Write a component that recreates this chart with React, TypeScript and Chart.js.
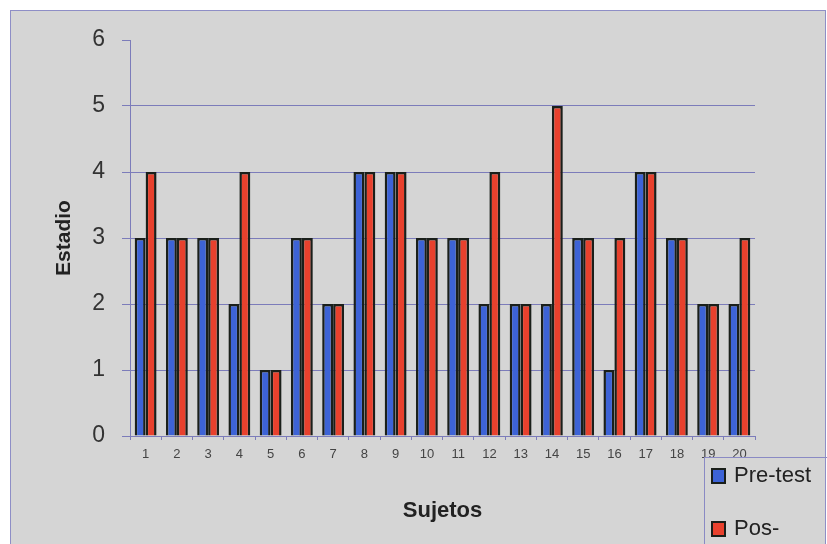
import React, { useEffect, useRef } from "react";
import { Chart, registerables } from "chart.js";

Chart.register(...registerables);

const categories = ["1", "2", "3", "4", "5", "6", "7", "8", "9", "10", "11", "12", "13", "14", "15", "16", "17", "18", "19", "20"];
const preTest = [3, 3, 3, 2, 1, 3, 2, 4, 4, 3, 3, 2, 2, 2, 3, 1, 4, 3, 2, 2];
const posTest = [4, 3, 3, 4, 1, 3, 2, 4, 4, 3, 3, 4, 2, 5, 3, 3, 4, 3, 2, 3];
const seriesLabels = ["Pre-test", "Pos-test"];
const legendLines = [["Pre-test"], ["Pos-", "test"]];
const xTitle = "Sujetos";
const yTitle = "Estadio";

const FONT = "'Liberation Sans', Arial, Helvetica, sans-serif";
const GRID = "#7c7cba";

const boxLegend = {
  id: "boxLegend",
  afterDraw(chart: any) {
    const ctx = chart.ctx;
    ctx.save();
    ctx.strokeStyle = "#8a8ac4";
    ctx.lineWidth = 1;
    ctx.strokeRect(704.5, 457.5, 150, 120);
    const rows = [476, 529];
    chart.data.datasets.forEach((ds: any, i: number) => {
      const cy = rows[i];
      ctx.fillStyle = ds.backgroundColor;
      ctx.fillRect(712, cy - 7, 13, 14);
      ctx.strokeStyle = "#1a1f1a";
      ctx.lineWidth = 2;
      ctx.strokeRect(712, cy - 7, 13, 14);
      ctx.fillStyle = "#222";
      ctx.font = `22px ${FONT}`;
      ctx.textBaseline = "middle";
      ctx.textAlign = "left";
      legendLines[i].forEach((line, k) => {
        ctx.fillText(line, 734, cy + k * 26);
      });
    });
    ctx.restore();
  },
};

export default function App() {
  const ref = useRef<HTMLCanvasElement | null>(null);

  useEffect(() => {
    if (!ref.current) return;
    Chart.defaults.font.family = FONT;
    const chart = new Chart(ref.current, {
      type: "bar",
      data: {
        labels: categories,
        datasets: [
          {
            label: seriesLabels[0],
            data: preTest,
            backgroundColor: "#3d63d6",
            borderColor: "#1a1f1a",
            borderWidth: 2.5,
            categoryPercentage: 0.7,
            barPercentage: 1,
          },
          {
            label: seriesLabels[1],
            data: posTest,
            backgroundColor: "#e8412d",
            borderColor: "#1a1f1a",
            borderWidth: 2.5,
            categoryPercentage: 0.7,
            barPercentage: 1,
          },
        ],
      },
      options: {
        responsive: false,
        animation: false,
        devicePixelRatio: 1,
        layout: { padding: { left: 0, top: 40, right: 72, bottom: 0 } },
        plugins: { legend: { display: false }, tooltip: { enabled: false } },
        scales: {
          x: {
            grid: {
              display: true,
              drawOnChartArea: false,
              drawTicks: true,
              tickLength: 4,
              color: GRID,
              offset: true,
            },
            border: { display: true, color: GRID, width: 1 },
            ticks: { font: { size: 13 }, color: "#444", padding: 7, maxRotation: 0, autoSkip: false },
            title: {
              display: true,
              text: xTitle,
              font: { size: 22, weight: "bold" },
              color: "#222",
              padding: { top: 0, bottom: 20 },
            },
            afterFit: (s: any) => {
              s.height = 108;
            },
          },
          y: {
            min: 0,
            max: 6,
            ticks: { stepSize: 1, font: { size: 23 }, color: "#333", padding: 17 },
            grid: {
              color: (c: any) => (c.tick && c.tick.value === 6 ? "rgba(0,0,0,0)" : GRID),
              tickColor: GRID,
              tickLength: 8,
              lineWidth: 1,
            },
            border: { display: true, color: GRID, width: 1 },
            title: {
              display: true,
              text: yTitle,
              font: { size: 21, weight: "bold" },
              color: "#222",
              padding: { top: 52, bottom: 0 },
            },
            afterFit: (s: any) => {
              s.width = 130;
            },
          },
        },
      },
      plugins: [boxLegend],
    });
    return () => chart.destroy();
  }, []);

  return (
    <div style={{ position: "fixed", left: 0, top: 0, width: 827, height: 544, overflow: "hidden", background: "#fff" }}>
      <div
        style={{
          position: "absolute",
          left: 10,
          top: 10,
          width: 814,
          height: 560,
          border: "1px solid #8e8ec6",
          background: "#d5d5d5",
        }}
      />
      <canvas ref={ref} width={827} height={544} style={{ position: "absolute", left: 0, top: 0 }} />
    </div>
  );
}
